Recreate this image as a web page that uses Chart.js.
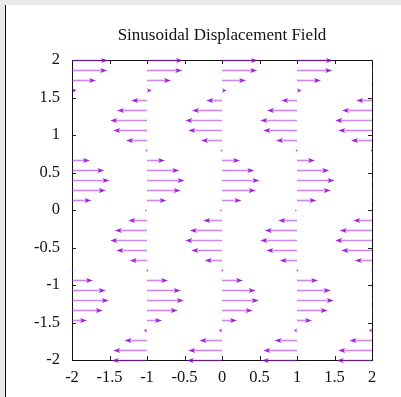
<!DOCTYPE html>
<html>
<head>
<meta charset="utf-8">
<script src="https://cdn.jsdelivr.net/npm/chart.js@4.4.0/dist/chart.umd.min.js"></script>
<style>
  html, body { margin: 0; padding: 0; }
  body { width: 401px; height: 397px; background: #e9e9e9; position: relative; overflow: hidden; }
  #panel { position: absolute; left: 5px; top: 5px; width: 396px; height: 392px; background: #fff; border-left: 1.5px solid #111; box-sizing: border-box; }
  #wrap { position: absolute; left: 0; top: 0; width: 401px; height: 397px; }
</style>
</head>
<body>
<div id="panel"></div>
<div id="wrap"><canvas id="chart" width="401" height="397"></canvas></div>
<script>
// arrow tails: columns (x) and rows (y)
const columnX = [-2, -1, 0, 1, 2];
const rowY = [2.000, 1.867, 1.733, 1.600, 1.467, 1.333, 1.200, 1.067, 0.933, 0.800,
              0.667, 0.533, 0.400, 0.267, 0.133, 0.000, -0.133, -0.267, -0.400, -0.533,
              -0.667, -0.800, -0.933, -1.067, -1.200, -1.333, -1.467, -1.600, -1.733, -1.867, -2.000];
// horizontal displacement per row (same for each column)
const rowDx = [0.48, 0.47, 0.32, 0.06, -0.21, -0.40, -0.49, -0.45, -0.28, -0.02,
               0.24, 0.43, 0.50, 0.45, 0.26, 0.00, -0.25, -0.43, -0.49, -0.41,
               -0.23, 0.02, 0.28, 0.45, 0.49, 0.41, 0.20, -0.04, -0.30, -0.45, -0.47];
const tickValues = [-2, -1.5, -1, -0.5, 0, 0.5, 1, 1.5, 2];

const points = [];
columnX.forEach(x => {
  rowY.forEach((y, i) => points.push({x: x, y: y, dx: rowDx[i]}));
});

const frame = {
  id: 'frame',
  beforeDatasetsDraw(chart) {
    const {ctx, chartArea: a, scales} = chart;
    ctx.save();
    ctx.strokeStyle = '#222';
    ctx.lineWidth = 1;
    const tl = 4;
    ctx.beginPath();
    tickValues.forEach(v => {
      const px = Math.round(scales.x.getPixelForValue(v)) + 0.5;
      ctx.moveTo(px, a.bottom); ctx.lineTo(px, a.bottom - tl);
      ctx.moveTo(px, a.top); ctx.lineTo(px, a.top + tl);
      const py = Math.round(scales.y.getPixelForValue(v)) + 0.5;
      ctx.moveTo(a.left, py); ctx.lineTo(a.left + tl, py);
      ctx.moveTo(a.right, py); ctx.lineTo(a.right - tl, py);
    });
    ctx.stroke();
    ctx.strokeStyle = '#111';
    ctx.strokeRect(a.left + 0.5, a.top + 0.5, a.right - a.left, a.bottom - a.top);
    ctx.restore();
  }
};

const arrows = {
  id: 'arrows',
  afterDatasetsDraw(chart) {
    const {ctx, chartArea: a, scales} = chart;
    const pts = chart.data.datasets[0].data;
    ctx.save();
    ctx.beginPath();
    ctx.rect(a.left, a.top - 4, a.right - a.left + 1, a.bottom - a.top + 8);
    ctx.clip();
    pts.forEach(p => {
      const x0 = scales.x.getPixelForValue(p.x);
      const x1 = scales.x.getPixelForValue(p.x + p.dx);
      const y = Math.round(scales.y.getPixelForValue(p.y)) + 0.5;
      const len = Math.abs(x1 - x0);
      const dir = x1 >= x0 ? 1 : -1;
      const hl = Math.min(7, Math.max(len, 2));
      const hw = Math.min(2.6, 1 + len * 0.3);
      ctx.strokeStyle = 'rgba(160, 40, 220, 0.55)';
      ctx.lineWidth = 1.6;
      if (len > hl) {
        ctx.beginPath();
        ctx.moveTo(x0, y);
        ctx.lineTo(x1 - dir * hl * 0.6, y);
        ctx.stroke();
      }
      ctx.fillStyle = 'rgba(148, 0, 211, 0.85)';
      ctx.beginPath();
      ctx.moveTo(x1, y);
      ctx.lineTo(x1 - dir * hl, y - hw);
      ctx.lineTo(x1 - dir * hl * 0.75, y);
      ctx.lineTo(x1 - dir * hl, y + hw);
      ctx.closePath();
      ctx.fill();
    });
    ctx.restore();
  }
};

const serif = 'Liberation Serif, DejaVu Serif, serif';
const fmt = v => String(v);

new Chart(document.getElementById('chart'), {
  type: 'scatter',
  data: {
    datasets: [{
      data: points,
      pointRadius: 0,
      showLine: false
    }]
  },
  plugins: [frame, arrows],
  options: {
    responsive: false,
    animation: false,
    events: [],
    layout: { padding: { left: 0, right: 29, top: 0, bottom: 0 } },
    plugins: {
      legend: { display: false },
      tooltip: { enabled: false },
      title: {
        display: true,
        fullSize: false,
        text: 'Sinusoidal Displacement Field',
        color: '#111',
        font: { family: serif, size: 17, weight: 'normal' },
        padding: { top: 25, bottom: 14.6 }
      }
    },
    scales: {
      x: {
        type: 'linear',
        min: -2, max: 2,
        afterBuildTicks: s => { s.ticks = tickValues.map(v => ({value: v})); },
        afterFit: s => { s.height = 37; },
        grid: { display: false, drawTicks: false },
        border: { display: false },
        ticks: { color: '#111', padding: 8, maxRotation: 0, callback: fmt, font: { family: serif, size: 16.5 } }
      },
      y: {
        type: 'linear',
        min: -2, max: 2,
        afterBuildTicks: s => { s.ticks = tickValues.map(v => ({value: v})); },
        afterFit: s => { s.width = 72; },
        grid: { display: false, drawTicks: false },
        border: { display: false },
        ticks: { color: '#111', padding: 12, callback: fmt, font: { family: serif, size: 16.5 } }
      }
    }
  }
});
</script>
</body>
</html>
